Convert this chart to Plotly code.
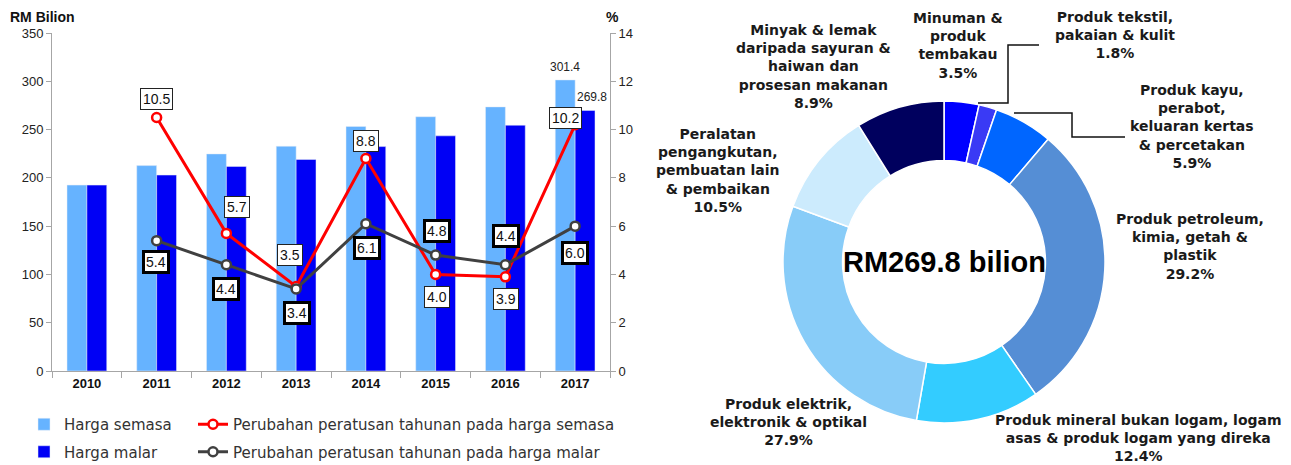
import plotly.graph_objects as go

W, H = 1291, 465

years = ["2010", "2011", "2012", "2013", "2014", "2015", "2016", "2017"]
harga_semasa = [192.5, 212.7, 224.8, 232.7, 253.2, 263.3, 273.5, 301.4]
harga_malar = [192.5, 202.9, 211.8, 219.0, 232.4, 243.5, 254.5, 269.8]
pct_years = ["2011", "2012", "2013", "2014", "2015", "2016", "2017"]
pct_semasa = [10.5, 5.7, 3.5, 8.8, 4.0, 3.9, 10.2]
pct_malar = [5.4, 4.4, 3.4, 6.1, 4.8, 4.4, 6.0]

pie_names = [
    "Minuman &<br>produk<br>tembakau",
    "Produk tekstil,<br>pakaian & kulit",
    "Produk kayu,<br>perabot,<br>keluaran kertas<br>& percetakan",
    "Produk petroleum,<br>kimia, getah &<br>plastik",
    "Produk mineral bukan logam, logam<br>asas & produk logam yang direka",
    "Produk elektrik,<br>elektronik & optikal",
    "Peralatan<br>pengangkutan,<br>pembuatan lain<br>& pembaikan",
    "Minyak & lemak<br>daripada sayuran &<br>haiwan dan<br>prosesan makanan",
]
pie_values = [3.5, 1.8, 5.9, 29.2, 12.4, 27.9, 10.5, 8.9]
pie_colors = ["#0000FF", "#3A3AF5", "#0066FF", "#558ED5", "#33CCFF", "#88CCF8", "#CCEBFD", "#00005E"]
# label centre positions (px) for each pie label
pie_label_pos = [(958, 45), (1115, 35), (1192, 126), (1190, 247), (1138, 438), (788, 422), (718, 171), (813, 66)]
center_text = "RM269.8 bilion"


def px(x):
    return x / W


def py(y):
    return 1 - y / H


def idx(yr):
    return years.index(yr)


fig = go.Figure()

fig.add_trace(go.Bar(x=years, y=harga_semasa, name="Harga semasa", marker_color="#66B3FF",
                     legend="legend", legendgroup="a"))
fig.add_trace(go.Bar(x=years, y=harga_malar, name="Harga malar", marker_color="#0000F5",
                     legend="legend", legendgroup="b"))
fig.add_trace(go.Scatter(x=pct_years, y=pct_semasa, yaxis="y2", mode="lines+markers",
                         name="Perubahan peratusan tahunan pada harga semasa",
                         line=dict(color="#FF0000", width=3),
                         marker=dict(symbol="circle", size=9, color="white", line=dict(color="#FF0000", width=2.5)),
                         legend="legend2", legendgroup="c", cliponaxis=False))
fig.add_trace(go.Scatter(x=pct_years, y=pct_malar, yaxis="y2", mode="lines+markers",
                         name="Perubahan peratusan tahunan pada harga malar",
                         line=dict(color="#404040", width=3),
                         marker=dict(symbol="circle", size=9, color="white", line=dict(color="#404040", width=2.5)),
                         legend="legend2", legendgroup="d", cliponaxis=False))

fig.add_trace(go.Pie(values=pie_values, labels=[n.replace("<br>", " ") for n in pie_names],
                     hole=0.63, sort=False, direction="clockwise", rotation=0,
                     marker=dict(colors=pie_colors, line=dict(color="white", width=1.5)),
                     textinfo="none", showlegend=False,
                     domain=dict(x=[px(783), px(1105)], y=[py(423), py(101)])))

annotations = []
# bar value labels (2017)
annotations.append(dict(x=idx(years[-1]), y=harga_semasa[-1], xref="x", yref="y", text=f"{harga_semasa[-1]:.1f}",
                        xshift=-10, yshift=13, showarrow=False,
                        font=dict(family="Liberation Sans, Arial", size=12, color="#222")))
annotations.append(dict(x=idx(years[-1]), y=harga_malar[-1], xref="x", yref="y", text=f"{harga_malar[-1]:.1f}",
                        xshift=17, yshift=13, showarrow=False,
                        font=dict(family="Liberation Sans, Arial", size=12, color="#222")))

red_off = [(0, 18), (11, 26), (-6, 32), (0, 18), (1, -23), (1, -22), (-10, 7)]
gray_off = [(-1, -21), (0, -24), (1, -24), (1, -24), (1, 24), (1, 29), (0, -27)]
for yr, v, (dx, dy) in zip(pct_years, pct_semasa, red_off):
    annotations.append(dict(x=idx(yr), y=v, xref="x", yref="y2", text=f"{v:.1f}", xshift=dx, yshift=dy,
                            showarrow=False, bgcolor="white", bordercolor="#222", borderwidth=1, borderpad=2,
                            font=dict(family="Liberation Sans, Arial", size=14, color="#111")))
for yr, v, (dx, dy) in zip(pct_years, pct_malar, gray_off):
    annotations.append(dict(x=idx(yr), y=v, xref="x", yref="y2", text=f"{v:.1f}", xshift=dx, yshift=dy,
                            showarrow=False, bgcolor="white", bordercolor="#000", borderwidth=3, borderpad=1,
                            font=dict(family="Liberation Sans, Arial", size=14, color="#111")))

# axis titles
annotations.append(dict(x=px(8), y=py(17), xref="paper", yref="paper", text="<b>RM Bilion</b>",
                        xanchor="left", yanchor="middle", showarrow=False,
                        font=dict(family="Liberation Sans, Arial", size=14, color="#111")))
annotations.append(dict(x=px(612), y=py(17), xref="paper", yref="paper", text="<b>%</b>",
                        xanchor="center", yanchor="middle", showarrow=False,
                        font=dict(family="Liberation Sans, Arial", size=14, color="#111")))

# pie labels
for name, v, (cx, cy) in zip(pie_names, pie_values, pie_label_pos):
    annotations.append(dict(x=px(cx), y=py(cy), xref="paper", yref="paper",
                            text=f"<b>{name}<br>{v:.1f}%</b>", showarrow=False, align="center",
                            xanchor="center", yanchor="middle",
                            font=dict(family="DejaVu Sans", size=14, color="#1a1a1a")))
annotations.append(dict(x=px(944), y=py(262), xref="paper", yref="paper", text=f"<b>{center_text}</b>",
                        showarrow=False, xanchor="center", yanchor="middle",
                        font=dict(family="Liberation Sans, Arial", size=29, color="#000")))

shapes = [
    dict(type="path", xref="paper", yref="paper",
         path=f"M {px(978)} {py(103)} L {px(1008)} {py(103)} L {px(1008)} {py(45)} L {px(1039)} {py(45)}",
         line=dict(color="#111", width=1.5)),
    dict(type="path", xref="paper", yref="paper",
         path=f"M {px(1014)} {py(113)} L {px(1072)} {py(113)} L {px(1072)} {py(137)} L {px(1125)} {py(137)}",
         line=dict(color="#111", width=1.5)),
]

axis_font = dict(family="Liberation Sans, Arial", size=13, color="#222")
fig.update_layout(
    width=W, height=H, margin=dict(l=0, r=0, t=0, b=0, autoexpand=False),
    paper_bgcolor="white", plot_bgcolor="white",
    barmode="group", bargap=0.43, bargroupgap=0,
    xaxis=dict(domain=[px(52), px(610)], type="category", range=[-0.5, len(years) - 0.5],
               showgrid=False, showline=True, automargin=False,
               linecolor="#A6A6A6", linewidth=1, ticks="outside", tickson="boundaries",
               ticklen=6, tickcolor="#A6A6A6",
               tickfont=dict(family="Liberation Sans, Arial", size=13, color="#111"),
               tickprefix="<b>", ticksuffix="</b>"),
    yaxis=dict(domain=[py(371), py(33)], range=[0, 350], dtick=50, showgrid=False, showline=True,
               automargin=False,
               linecolor="#A6A6A6", ticks="outside", ticklen=5, tickcolor="#A6A6A6",
               tickfont=axis_font, zeroline=False),
    yaxis2=dict(overlaying="y", side="right", anchor="x", range=[0, 14], dtick=2, showgrid=False,
                automargin=False,
                showline=True, linecolor="#A6A6A6", ticks="outside", ticklen=5, tickcolor="#A6A6A6",
                tickfont=axis_font, zeroline=False),
    legend=dict(x=px(24), y=py(408), xanchor="left", yanchor="top", orientation="v",
                tracegroupgap=5, traceorder="grouped", bgcolor="rgba(0,0,0,0)",
                font=dict(family="DejaVu Sans", size=15, color="#333")),
    legend2=dict(x=px(193), y=py(408), xanchor="left", yanchor="top", orientation="v",
                 tracegroupgap=5, traceorder="grouped", bgcolor="rgba(0,0,0,0)",
                 font=dict(family="DejaVu Sans", size=15, color="#333")),
    annotations=annotations, shapes=shapes,
)

fig.write_html("out.html", config={"displayModeBar": False},
               post_script="document.body.style.margin='0';document.body.style.overflow='hidden';")
